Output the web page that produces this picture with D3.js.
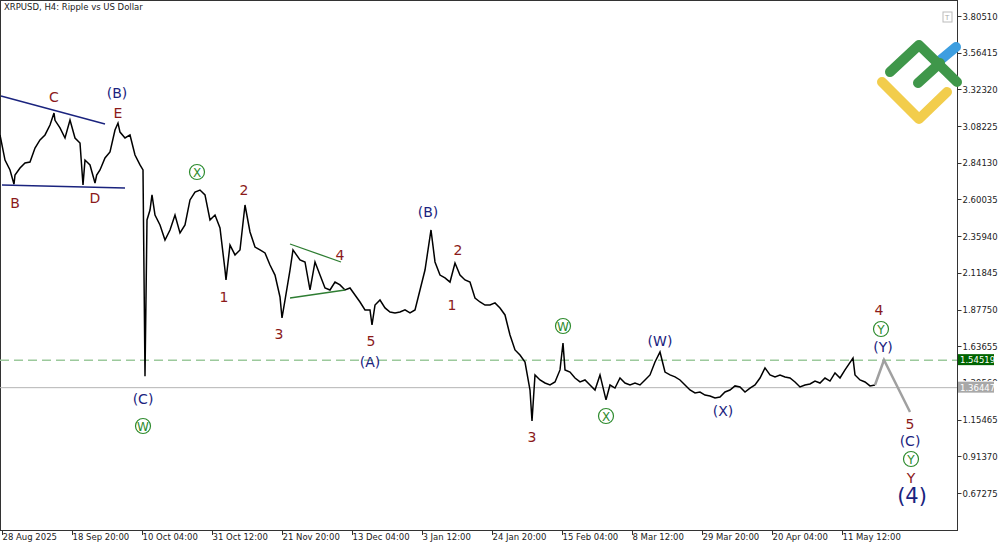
<!DOCTYPE html>
<html><head><meta charset="utf-8">
<script src="https://cdn.jsdelivr.net/npm/d3@7"></script>
<style>body{margin:0;background:#fff}svg{display:block;font-family:Tahoma,"DejaVu Sans",sans-serif}</style>
</head><body><svg id="c" width="1000" height="545"></svg>
<script>
const priceTicks=[3.80510,3.56415,3.32320,3.08225,2.84130,2.60035,2.35940,2.11845,1.87750,1.63655,1.39560,1.15465,0.91370,0.67275];
const timeLabels=["28 Aug 2025","18 Sep 20:00","10 Oct 04:00","31 Oct 12:00","21 Nov 20:00","13 Dec 04:00","3 Jan 12:00","24 Jan 20:00","15 Feb 04:00","8 Mar 12:00","29 Mar 20:00","20 Apr 04:00","11 May 12:00"];
const tickDays=[0,21,42,63,84,105,126,147,168,189,210,231,252];
// [days since 28 Aug 2025, price]
const series=[[0,3.024],[1.5,2.859],[3,2.794],[4.2,2.700],[4.5,2.761],[6,2.807],[7.5,2.840],[9,2.846],[10.5,2.938],[12,2.991],[13.5,3.024],[15,3.089],[16.2,3.168],[16.5,3.12],[18,3.070],[19.5,3.004],[21,3.122],[22.5,3.004],[24,2.971],[24.9,2.695],[25.5,2.859],[27,2.827],[28.5,2.708],[29,2.761],[30,2.794],[31.5,2.873],[33,2.912],[34.5,3.056],[35.4,3.102],[36,3.043],[37.5,3.004],[39,3.024],[40.5,2.892],[42,2.827],[42.9,2.794],[43.5,1.440],[44.1,2.466],[45,2.531],[45.6,2.630],[46.5,2.498],[48,2.433],[49.5,2.334],[51,2.400],[52.5,2.498],[54,2.380],[55.5,2.433],[57,2.597],[58.5,2.649],[60,2.662],[61.5,2.630],[63,2.466],[64.5,2.498],[66,2.413],[67.5,2.137],[67.8,2.072],[69,2.301],[70.5,2.236],[72,2.269],[73.5,2.564],[75,2.387],[76.5,2.288],[78,2.269],[79.5,2.249],[81,2.170],[82.5,2.104],[84,1.960],[84.6,1.822],[85.5,1.940],[87,2.137],[87.9,2.269],[90,2.203],[91.5,2.190],[93,2.006],[94.5,2.190],[96,2.104],[97.5,2.019],[99,2.006],[100.5,2.058],[102,2.039],[103.5,2.006],[105,2.019],[106.5,1.973],[108,1.927],[109.5,1.875],[111,1.875],[111.6,1.776],[112.5,1.907],[114,1.940],[115.5,1.888],[117,1.861],[118.5,1.855],[120,1.861],[121.5,1.875],[123,1.855],[124.5,1.875],[126,2.006],[127.5,2.137],[129.3,2.400],[130.5,2.190],[132,2.104],[133.5,2.085],[135,2.058],[136.5,2.183],[138,2.104],[139.5,2.072],[141,2.058],[142.5,1.953],[144,1.927],[145.5,1.907],[147,1.907],[148.5,1.921],[150,1.888],[151.5,1.842],[153,1.710],[154.5,1.612],[156,1.579],[157.5,1.533],[159,1.349],[159.6,1.146],[160.5,1.448],[162,1.415],[163.5,1.395],[165,1.382],[166.5,1.402],[168,1.481],[168.9,1.658],[169.5,1.481],[171,1.467],[172.5,1.428],[174,1.402],[175.5,1.415],[177,1.382],[178.5,1.349],[180,1.448],[181.8,1.284],[183,1.382],[184.5,1.362],[186,1.428],[187.5,1.395],[189,1.382],[190.5,1.395],[192,1.382],[193.5,1.415],[195,1.448],[196.5,1.533],[198,1.599],[199.5,1.467],[201,1.448],[202.5,1.435],[204,1.415],[205.5,1.382],[207,1.349],[208.5,1.330],[210,1.336],[211.5,1.316],[213,1.310],[214.5,1.297],[216,1.303],[217.5,1.336],[219,1.349],[220.5,1.376],[222,1.369],[223.5,1.336],[225,1.362],[226.5,1.382],[228,1.428],[229.5,1.494],[231,1.448],[232.5,1.435],[234,1.448],[235.5,1.435],[237,1.428],[238.5,1.402],[240,1.369],[241.5,1.382],[243,1.389],[244.5,1.408],[246,1.395],[247.5,1.428],[249,1.408],[250.5,1.461],[252,1.428],[253.5,1.481],[255.9,1.559],[256.5,1.448],[258,1.415],[259.5,1.402],[261,1.376],[262.5,1.382]];
const projDays=[262.5,265.2,273];
const projPrice=[1.382,1.546,1.205];
const levels=[{v:1.54519,name:"1.54519"},{v:1.36447,name:"1.36447"}];

const svg=d3.select("#c");
const W=957,H=530;
const x=d3.scaleLinear().domain([0,21]).range([0,70]);
const y=d3.scaleLinear().domain([0.67275,3.80510]).range([493,16]);
const xt=d=>Math.round(x(d))+2.5;

svg.append("rect").attr("x",0.5).attr("y",0.5).attr("width",W).attr("height",H).attr("fill","#fff").attr("stroke","#333");
const ya=svg.append("g").attr("transform",`translate(${W+0.5},0)`);
priceTicks.forEach(v=>{
  ya.append("line").attr("x1",0).attr("x2",4).attr("y1",Math.round(y(v))+0.5).attr("y2",Math.round(y(v))+0.5).attr("stroke","#333");
  if(Math.abs(v-1.3956)>0.001) ya.append("text").attr("x",5).attr("y",y(v)+3.5).attr("font-size",8.5).attr("fill","#222").text(v.toFixed(5));
  else ya.append("text").attr("x",5).attr("y",y(v)+3.5).attr("font-size",8.5).attr("fill","#222").attr("clip-path","url(#cl)").text(v.toFixed(5));
});
svg.append("clipPath").attr("id","cl").append("rect").attr("x",0).attr("y",0).attr("width",60).attr("height",381);
const xa=svg.append("g");
tickDays.forEach((d,i)=>{
  const px=xt(d);
  xa.append("line").attr("x1",px).attr("x2",px).attr("y1",H).attr("y2",H+5).attr("stroke","#333");
  xa.append("text").attr("x",px).attr("y",H+10).attr("font-size",8.5).attr("fill","#222").text(timeLabels[i]);
});
svg.append("text").attr("x",4).attr("y",10).attr("font-size",8.5).attr("fill","#222").text("XRPUSD, H4:  Ripple vs US Dollar");
svg.append("rect").attr("x",943).attr("y",12).attr("width",9).attr("height",10).attr("fill","none").attr("stroke","#bbb");
svg.append("text").attr("x",945).attr("y",20).attr("font-size",7).attr("fill","#aaa").text("T");

const lg=svg.append("g").attr("fill","none").attr("stroke-linecap","round").attr("stroke-linejoin","round").attr("stroke-width",10);
lg.append("path").attr("d","M938,62L956,47").attr("stroke","#3d9ee0");
lg.append("path").attr("d","M882,82L919,119L947,92").attr("stroke","#f2cd4c");
lg.append("path").attr("d","M890,72L919,45L957,82").attr("stroke","#3f974a");
lg.append("path").attr("d","M918,83L940,63").attr("stroke","#3f974a");

svg.append("line").attr("x1",0).attr("x2",W).attr("y1",y(levels[1].v)).attr("y2",y(levels[1].v)).attr("stroke","#b5b5b5");
svg.append("line").attr("x1",0).attr("x2",W).attr("y1",y(levels[0].v)).attr("y2",y(levels[0].v)).attr("stroke","#9cc99c").attr("stroke-width",1.5).attr("stroke-dasharray","9,5");
[[levels[0],"#006400"],[levels[1],"#a8a8a8"]].forEach(([l,c])=>{
  svg.append("rect").attr("x",W+1).attr("y",y(l.v)-6).attr("width",36).attr("height",11).attr("fill",c);
  svg.append("text").attr("x",W+3).attr("y",y(l.v)+3).attr("font-size",8.5).attr("fill","#fff").text(l.name);
});

const line=d3.line().x(d=>x(d[0])).y(d=>y(d[1]));
svg.append("path").datum(series).attr("d",line).attr("fill","none").attr("stroke","#000").attr("stroke-width",1.5);
svg.append("path").datum(projDays.map((d,i)=>[d,projPrice[i]])).attr("d",line).attr("fill","none").attr("stroke","#a0a0a0").attr("stroke-width",2.5);

const seg=(a,b,c)=>svg.append("line").attr("x1",a[0]).attr("y1",a[1]).attr("x2",b[0]).attr("y2",b[1]).attr("stroke",c).attr("stroke-width",1.3);
seg([1,96],[105,124],"#1a237e");seg([2,185],[125,188],"#1a237e");
seg([290,244],[341,262],"#2e7d32");seg([290,298],[345,290],"#2e7d32");

const R="#8b1a1a",B="#1a237e",G="#2e8b2e";
const labels=[["C",54,97,R],["B",15,203,R],["D",95,198,R],["E",118,113,R],["(B)",117,93,B],["(C)",143,399,B],["2",244,190,R],["1",224,297,R],["3",279,334,R],["4",340,255,R],["5",371,341,R],["(A)",370,362,B],["(B)",428,212,B],["2",458,250,R],["1",452,305,R],["3",532,437,R],["(W)",660,341,B],["(X)",723,411,B],["4",879,310,R],["(Y)",883,347,B],["5",910,424,R],["(C)",910,441,B],["Y",911,478,R]];
labels.forEach(([t,px,py,c])=>svg.append("text").attr("x",px).attr("y",py+5).attr("text-anchor","middle").attr("font-size",14).attr("fill",c).text(t));
svg.append("text").attr("x",912).attr("y",503).attr("text-anchor","middle").attr("font-size",21).attr("fill",B).text("(4)");
const circ=[["W",143,426],["X",197,172],["W",563,326],["X",606,416],["Y",881,329],["Y",911,459]];
circ.forEach(([t,px,py])=>{
  svg.append("circle").attr("cx",px).attr("cy",py).attr("r",7.5).attr("fill","none").attr("stroke",G).attr("stroke-width",1.2);
  svg.append("text").attr("x",px).attr("y",py+4.5).attr("text-anchor","middle").attr("font-size",12).attr("fill",G).text(t);
});
</script></body></html>
